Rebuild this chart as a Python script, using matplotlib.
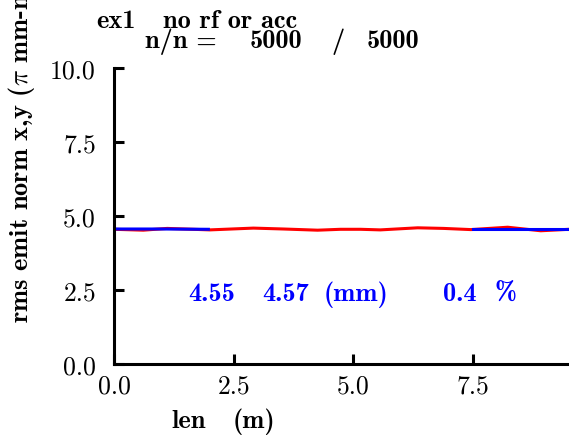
import matplotlib.pyplot as plt

# emittance along the line (x in red, y in blue over the ends)
len_x = [0.0, 0.61, 1.11, 2.0, 2.91, 3.54, 4.25, 4.73, 5.15, 5.56, 6.34, 6.88, 7.45, 8.22, 8.91, 9.5]
emit_x = [4.55, 4.52, 4.58, 4.53, 4.59, 4.56, 4.52, 4.55, 4.55, 4.53, 4.60, 4.58, 4.54, 4.62, 4.50, 4.55]
len_y1 = [0.0, 1.0, 1.97]
emit_y1 = [4.56, 4.56, 4.55]
len_y2 = [7.49, 8.5, 9.5]
emit_y2 = [4.57, 4.57, 4.57]

emit_avg_x = 4.55
emit_avg_y = 4.57
growth = 0.4
n_start, n_end = 5000, 5000

plt.rcParams['mathtext.fontset'] = 'cm'
plt.rcParams['axes.unicode_minus'] = False

W, H = 569, 439
fig = plt.figure(figsize=(W / 100, H / 100), dpi=100)
ax = fig.add_axes([0.2004, 0.1686, 0.7996, 0.6743])

ax.plot(len_x, emit_x, color='red', lw=2.2)
ax.plot(len_y1, emit_y1, color='blue', lw=2.2)
ax.plot(len_y2, emit_y2, color='blue', lw=2.2)

ax.set_xlim(0, 9.5)
ax.set_ylim(0, 10)
ax.set_xticks([0.0, 2.5, 5.0, 7.5])
ax.set_yticks([0.0, 2.5, 5.0, 7.5, 10.0])
ax.set_xticklabels(['0.0', '2.5', '5.0', '7.5'], fontfamily='cmr10', fontsize=18.5)
ax.set_yticklabels(['0.0', '2.5', '5.0', '7.5', '10.0'], fontfamily='cmr10', fontsize=18.5)
ax.tick_params(axis='both', direction='in', length=7, width=2.2)
ax.tick_params(axis='y', pad=13)
ax.tick_params(axis='x', pad=7)

for s in ['top', 'right']:
    ax.spines[s].set_visible(False)
for s in ['left', 'bottom']:
    ax.spines[s].set_linewidth(2.2)

bold = dict(fontfamily='cmb10', fontsize=19)


def ftext(px, py, s, **kw):
    # place text by pixel position (from top-left)
    fig.text(px / W, 1 - py / H, s, **bold, **kw)


# averages and growth
ax.text(1.55, 2.17, f'{emit_avg_x:.2f}', color='blue', va='baseline', **bold)
ax.text(3.10, 2.17, f'{emit_avg_y:.2f}', color='blue', va='baseline', **bold)
ax.text(4.37, 2.17, '(mm)', color='blue', va='baseline', **bold)
ax.text(6.86, 2.17, f'{growth:.1f}', color='blue', va='baseline', **bold)
ax.text(7.95, 2.17, '%', color='blue', va='baseline', **bold)

# title lines
ftext(96, 27.5, 'ex1', va='baseline')
ftext(163, 27.5, 'no rf or acc', va='baseline')
ftext(145, 48, 'n/n =', va='baseline')
ftext(250, 48, f'{n_start}', va='baseline')
ftext(332, 48, '/', va='baseline')
ftext(367, 48, f'{n_end}', va='baseline')

# axis labels
ftext(171, 428, 'len', va='baseline')
ftext(233, 428, '(m)', va='baseline')
ftext(22, 323, r'rms emit norm x,y ($\pi$ mm-mrad)', rotation=90, ha='center', va='bottom')

fig.savefig('out.png', dpi=100)
